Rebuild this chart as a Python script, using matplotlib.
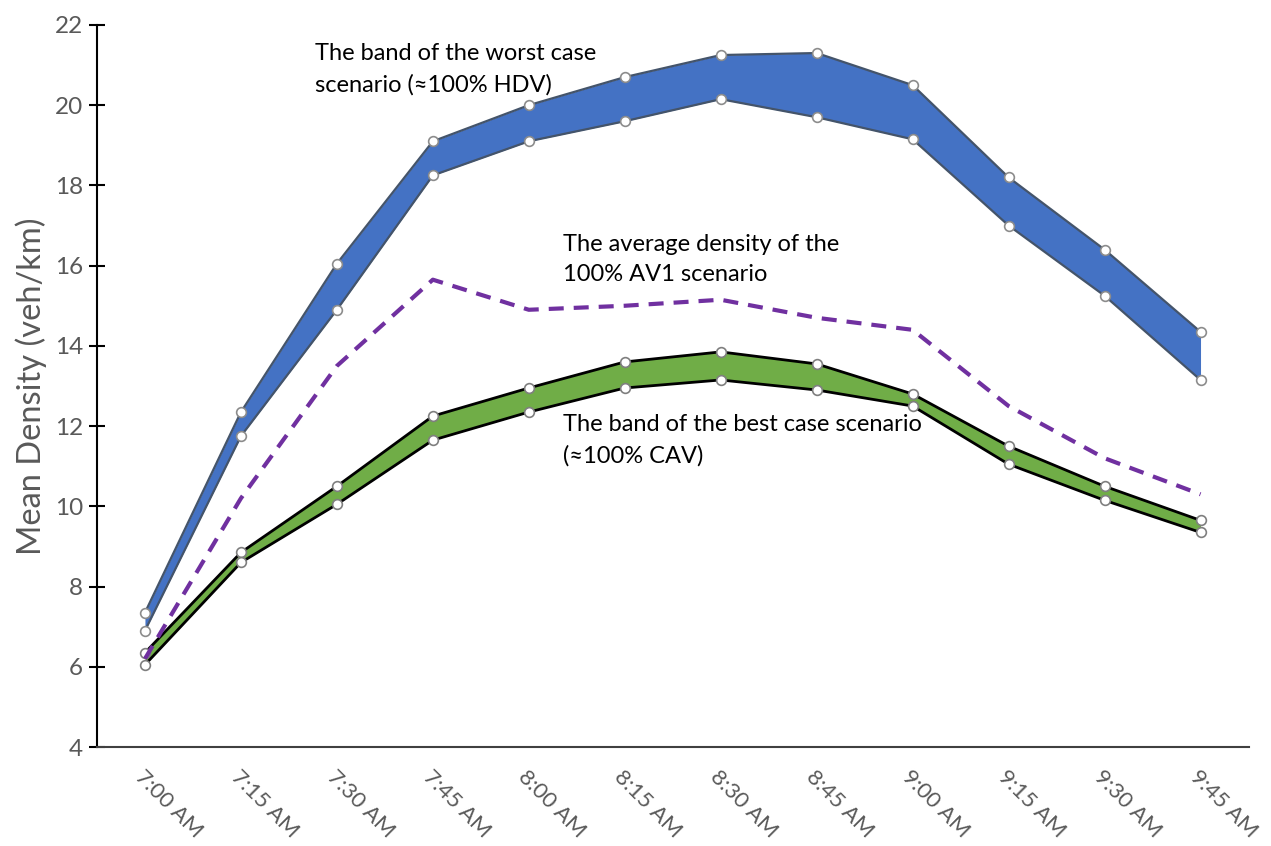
import numpy as np
import matplotlib
matplotlib.use("Agg")
import matplotlib.pyplot as plt

plt.rcParams['font.family'] = ['Lato', 'DejaVu Sans']

times = ["7:00 AM", "7:15 AM", "7:30 AM", "7:45 AM", "8:00 AM", "8:15 AM",
         "8:30 AM", "8:45 AM", "9:00 AM", "9:15 AM", "9:30 AM", "9:45 AM"]

# worst case band (~100% HDV)
hdv_upper = [7.35, 12.35, 16.05, 19.1, 20.0, 20.7, 21.25, 21.3, 20.5, 18.2, 16.4, 14.35]
hdv_lower = [6.9, 11.75, 14.9, 18.25, 19.1, 19.6, 20.15, 19.7, 19.15, 17.0, 15.25, 13.15]

# average of the 100% AV1 runs
av1_mean = [6.2, 10.2, 13.5, 15.65, 14.9, 15.0, 15.15, 14.7, 14.4, 12.5, 11.2, 10.3]

# best case band (~100% CAV)
cav_upper = [6.35, 8.85, 10.5, 12.25, 12.95, 13.6, 13.85, 13.55, 12.8, 11.5, 10.5, 9.65]
cav_lower = [6.05, 8.6, 10.05, 11.65, 12.35, 12.95, 13.15, 12.9, 12.5, 11.05, 10.15, 9.35]

x = np.arange(len(times))

fig = plt.figure(figsize=(12.71, 8.46), dpi=100)
ax = fig.add_axes([0.0763, 0.117, 0.906, 0.8535])

# blue band
ax.fill_between(x, hdv_lower, hdv_upper, color="#4472C4", linewidth=0, zorder=2)
for edge in (hdv_upper, hdv_lower):
    ax.plot(x, edge, color="#44546A", lw=1.6, zorder=3,
            marker="o", ms=7, mfc="white", mec="#8C8C8C", mew=1.2)

# green band
ax.fill_between(x, cav_lower, cav_upper, color="#70AD47", linewidth=0, zorder=2)
for edge in (cav_upper, cav_lower):
    ax.plot(x, edge, color="black", lw=2, zorder=3,
            marker="o", ms=7, mfc="white", mec="#7F7F7F", mew=1.2)

# dashed average line
ax.plot(x, av1_mean, color="#7030A0", lw=3, dashes=(3.6, 2.4),
        solid_joinstyle="round", zorder=4)

ax.set_xlim(-0.5, 11.5)
ax.set_ylim(4, 22)
ax.set_yticks(range(4, 23, 2))
ax.set_xticks(x)
ax.set_xticklabels(times, rotation=-45, ha="left", va="top",
                   rotation_mode="anchor", fontsize=16, color="#595959")
ax.tick_params(axis="x", length=0, pad=14)
ax.tick_params(axis="y", direction="inout", length=12, width=1.5,
               labelsize=17.5, labelcolor="#595959", pad=4)

ax.spines["top"].set_visible(False)
ax.spines["right"].set_visible(False)
ax.spines["left"].set_linewidth(1.5)
ax.spines["bottom"].set_linewidth(1.5)
ax.spines["bottom"].set_color("#404040")
ax.set_ylabel("Mean Density (veh/km)", fontsize=23.5, color="#595959", labelpad=6)

ax.text(1.77, 21.55, "The band of the worst case\nscenario (\u2248100% HDV)",
        fontsize=17, va="top", ha="left", linespacing=1.6, zorder=5)
ax.text(4.36, 16.8, "The average density of the\n100% AV1 scenario",
        fontsize=17, va="top", ha="left", linespacing=1.55, zorder=5)
ax.text(4.36, 12.3, "The band of the best case scenario\n(\u2248100% CAV)",
        fontsize=17, va="top", ha="left", linespacing=1.55, zorder=5)

fig.savefig("out.png", dpi=100)
